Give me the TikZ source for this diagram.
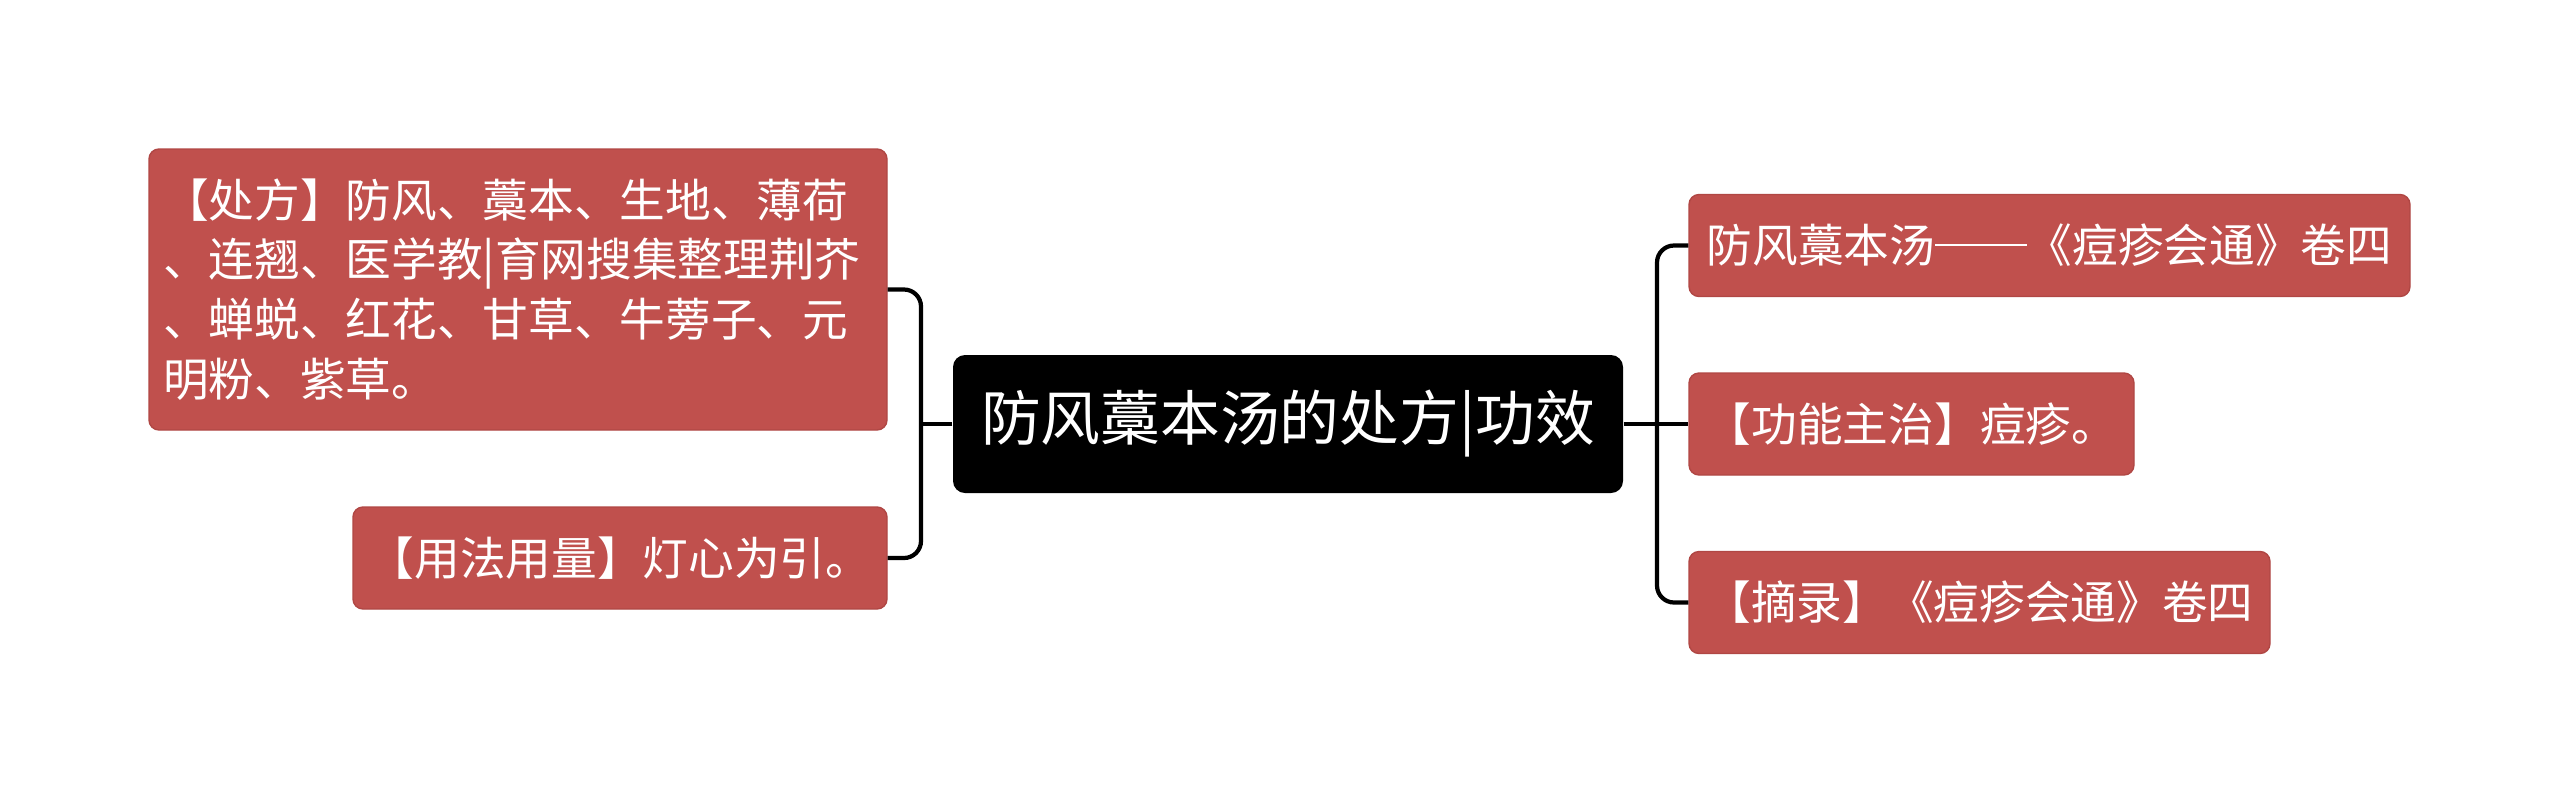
\documentclass[tikz,border=0pt]{standalone}
\usepackage{fontspec}
\newfontfamily\cjk{Noto Sans CJK SC}
\definecolor{leafred}{HTML}{C0504D}
\definecolor{leafedge}{HTML}{B04744}

\begin{document}
\begin{tikzpicture}[
    topic/.style={fill=black,rounded corners=0.12cm,text=white,minimum height=1.38cm,
      inner xsep=0pt,font=\cjk\fontsize{17}{20}\selectfont},
    leaf/.style={fill=leafred,draw=leafedge,line width=0.4pt,rounded corners=0.1cm,text=white,
      minimum height=1.02cm,inner xsep=0pt,font=\cjk\fontsize{13}{17}\selectfont},
    conn/.style={line width=1.2pt,rounded corners=0.17cm}
  ]
      \useasboundingbox (0,0) rectangle (25.6,8.04);
      % centre
      \node[topic,minimum width=6.70cm] (main) at (12.88,3.80) {防风藁本汤的处方|功效};
      % left side
      \node[leaf,minimum width=7.38cm,minimum height=2.81cm,text width=7.1cm,align=left] (chufang) at (5.18,5.145)
        {【处方】防风、藁本、生地、薄荷\\、连翘、医学教|育网搜集整理荆芥\\、蝉蜕、红花、甘草、牛蒡子、元\\明粉、紫草。};
      \node[leaf,minimum width=5.34cm] (yongfa) at (6.20,2.46) {【用法用量】灯心为引。};
      % right side
      \node[leaf,minimum width=7.21cm] (chuchu) at (20.495,5.585) {防风藁本汤\rule[0.36em]{2em}{0.06em}《痘疹会通》卷四};
      \node[leaf,minimum width=4.45cm] (gongneng) at (19.115,3.80) {【功能主治】痘疹。};
      \node[leaf,minimum width=5.81cm] (zhailu) at (19.795,2.015) {【摘录】《痘疹会通》卷四};
      % connectors
      \coordinate (lj) at (9.21,3.80);
      \coordinate (rj) at (16.57,3.80);
      \draw[conn] (main.west) -- (lj);
      \draw[conn] (chufang.east) -| (lj) |- (yongfa.east);
      \draw[conn] (main.east) -- (gongneng.west);
      \draw[conn] (chuchu.west) -| (rj) |- (zhailu.west);
    \end{tikzpicture}
\end{document}
